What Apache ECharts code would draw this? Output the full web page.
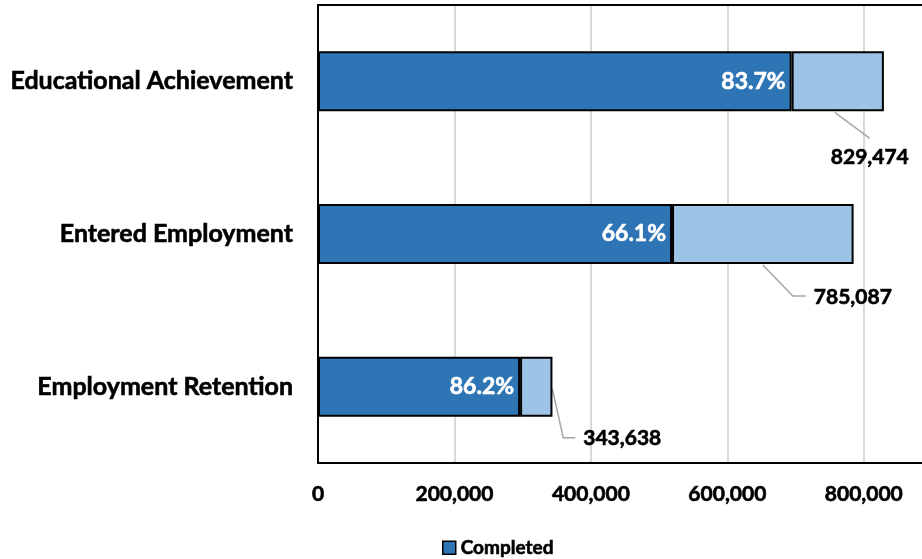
<!DOCTYPE html>
<html>
<head>
<meta charset="utf-8">
<script src="https://cdn.jsdelivr.net/npm/echarts@6/dist/echarts.min.js"></script>
<style>
  html, body { margin: 0; padding: 0; background: #fff; overflow: hidden; }
  #chart { width: 922px; height: 559px; }
</style>
</head>
<body>
<div id="chart"></div>
<script>
// measures, top to bottom
const categories = ['Educational Achievement', 'Entered Employment', 'Employment Retention'];
const totals = [829474, 785087, 343638];
const completedPct = [83.7, 66.1, 86.2];
const completed = [694270, 518943, 296216];
const remaining = [135204, 266144, 47422];

const FONT = 'Lato, "Open Sans", sans-serif';

// callout placement, in px from the centre of each light segment
const calloutLabel = [[32, 76], [90, 63], [86, 52]];
const calloutLine = [
  [[-3, 31], [32, 57], [32, 57]],
  [[0, 31], [30, 62], [43, 62]],
  [[16, 2], [27, 51], [39, 51]]
];

const chart = echarts.init(document.getElementById('chart'));

const blackLine = { show: true, lineStyle: { color: '#000', width: 2 } };
// Calibri-bold looks heavier than Lato bold, thicken a little
const heavy = { textBorderColor: '#000', textBorderWidth: 0.6 };

chart.setOption({
  animation: false,
  textStyle: { fontFamily: FONT },
  legend: {
    data: [{ name: 'Completed', icon: 'rect' }],
    left: 437,
    top: 533,
    itemWidth: 13,
    itemHeight: 13,
    itemGap: 4,
    itemStyle: { borderColor: '#000', borderWidth: 1.5 },
    textStyle: { fontFamily: FONT, fontWeight: 'bold', fontSize: 19, color: '#000', ...heavy }
  },
  grid: {
    left: 318,
    right: -10,
    top: 5,
    bottom: 96,
    outerBoundsMode: 'none'
  },
  xAxis: [
    {
      type: 'value',
      min: 0,
      max: 900000,
      interval: 200000,
      axisLine: blackLine,
      axisTick: { show: false },
      splitLine: { showMaxLine: false, lineStyle: { color: '#d9d9d9', width: 2 } },
      axisLabel: {
        showMaxLabel: false,
        margin: 21,
        color: '#000',
        fontWeight: 'bold',
        fontSize: 21,
        fontFamily: FONT,
        ...heavy,
        formatter: v => v.toLocaleString('en-US')
      }
    },
    {
      // plot-area top edge
      type: 'value',
      position: 'top',
      min: 0,
      max: 900000,
      axisLine: blackLine,
      axisTick: { show: false },
      axisLabel: { show: false },
      splitLine: { show: false }
    }
  ],
  yAxis: {
    type: 'category',
    inverse: true,
    data: categories,
    axisLine: blackLine,
    axisTick: { show: false },
    axisLabel: {
      margin: 25,
      color: '#000',
      fontWeight: 'bold',
      fontSize: 25,
      fontFamily: FONT,
      ...heavy
    }
  },
  series: [
    {
      name: 'Completed',
      type: 'bar',
      stack: 'total',
      barWidth: 60,
      data: completed,
      itemStyle: { color: '#2e75b6', borderColor: '#000', borderWidth: 2 },
      label: {
        show: true,
        position: 'insideRight',
        distance: 6,
        color: '#fff',
        fontWeight: 'bold',
        fontSize: 23,
        fontFamily: FONT,
        textBorderColor: '#fff',
        textBorderWidth: 0.6,
        formatter: p => completedPct[p.dataIndex].toFixed(1) + '%'
      }
    },
    {
      name: 'Remaining',
      type: 'bar',
      stack: 'total',
      barWidth: 60,
      data: remaining,
      itemStyle: { color: '#9dc3e6', borderColor: '#000', borderWidth: 2 },
      label: {
        show: true,
        position: 'inside',
        color: '#000',
        fontWeight: 'bold',
        fontSize: 21,
        fontFamily: FONT,
        ...heavy,
        formatter: p => totals[p.dataIndex].toLocaleString('en-US')
      },
      labelLayout: p => ({
        dx: calloutLabel[p.dataIndex][0],
        dy: calloutLabel[p.dataIndex][1]
      })
    },
    {
      // leader lines from each light segment to its total
      name: 'callouts',
      type: 'custom',
      silent: true,
      z: 1,
      data: completed.map((c, i) => [c + remaining[i] / 2, i]),
      renderItem: (params, api) => {
        const c = api.coord([api.value(0), api.value(1)]);
        const pts = calloutLine[params.dataIndex].map(o => [c[0] + o[0], c[1] + o[1]]);
        return {
          type: 'polyline',
          shape: { points: pts },
          style: { stroke: '#a6a6a6', lineWidth: 1.5, fill: null }
        };
      }
    }
  ]
});
</script>
</body>
</html>
